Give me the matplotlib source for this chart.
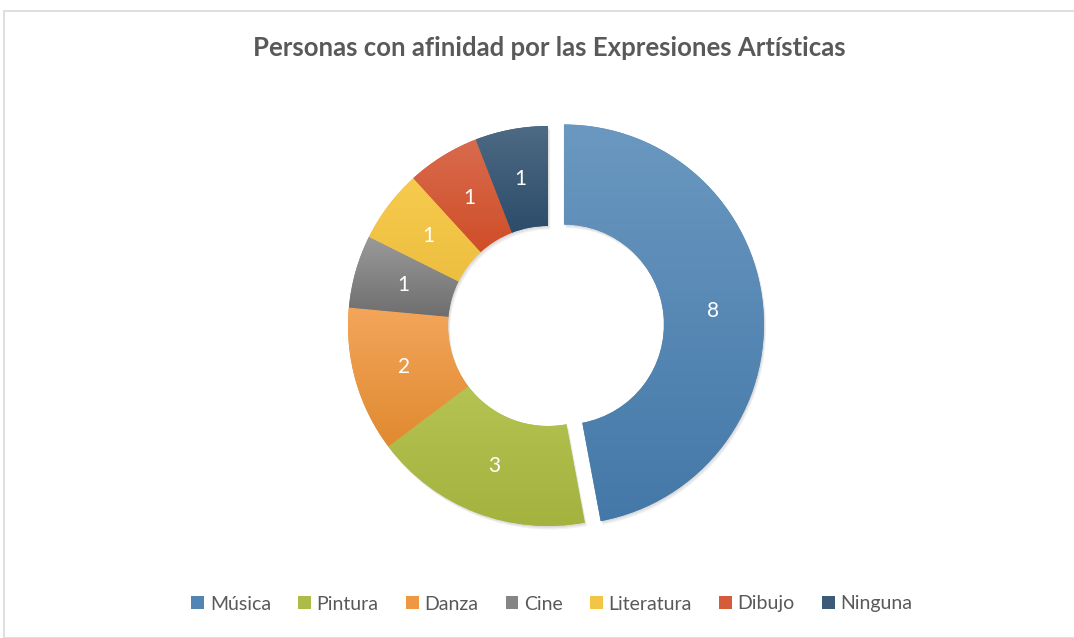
import matplotlib
matplotlib.use("Agg")
import matplotlib.pyplot as plt
import matplotlib.colors as mcolors
from matplotlib.patches import Rectangle, PathPatch
from matplotlib.transforms import Affine2D
import numpy as np

# data
categories = ["Música", "Pintura", "Danza", "Cine", "Literatura", "Dibujo", "Ninguna"]
values = [8, 3, 2, 1, 1, 1, 1]
explode = [0.08, 0, 0, 0, 0, 0, 0]
# gradient colours (top, bottom) per slice
top_colors = ["#6A98C0", "#B5C352", "#F3A55A", "#9A9A9A", "#F7CB4E", "#D96B4E", "#4E6A84"]
bottom_colors = ["#4478A8", "#A3B33E", "#E08A30", "#6E6E6E", "#EDBE40", "#CF4E27", "#2B4C6A"]
base_colors = ["#5285B4", "#ADBB48", "#EE9843", "#858585", "#F3C547", "#D45C38", "#3B5B78"]

plt.rcParams['font.family'] = ['Lato', 'DejaVu Sans']

fig = plt.figure(figsize=(10.74, 6.38), dpi=100)
fig.patch.set_facecolor("white")

# chart area border
fig.patches.append(Rectangle((4 / 1074, 0), 1.2, (638 - 11) / 638, transform=fig.transFigure,
                             fill=False, edgecolor="#D9D9D9", linewidth=1.2))

W = 260
cx, cy = 548, 326
ax = fig.add_axes([(cx - W) / 1074, (638 - cy - W) / 638, 2 * W / 1074, 2 * W / 638])
ax.set_xlim(-1.3, 1.3)
ax.set_ylim(-1.3, 1.3)
ax.set_aspect("equal")
ax.axis("off")

wedges, texts = ax.pie(values, explode=explode, startangle=90, counterclock=False,
                       colors=base_colors, radius=1.0,
                       wedgeprops=dict(width=0.5, edgecolor="none"),
                       labels=[str(v) for v in values], labeldistance=0.75)

for t in texts:
    t.set_color("white")
    t.set_fontsize(15)
    t.set_ha("center")
    t.set_va("center")
    t.set_zorder(10)

# shadows and gradients
for w, c0, c1 in zip(wedges, top_colors, bottom_colors):
    path = w.get_path()
    for k, a in enumerate([0.05, 0.05, 0.05]):
        off = 0.006 * (k + 1)
        sp = PathPatch(path, transform=Affine2D().translate(off * 0.6, -off) + ax.transData,
                       facecolor="black", edgecolor="none", alpha=a, zorder=0.5)
        ax.add_patch(sp)
    ext = path.get_extents()
    cmap = mcolors.LinearSegmentedColormap.from_list("g", [c1, c0])
    grad = np.linspace(0, 1, 256).reshape(-1, 1)
    im = ax.imshow(grad, cmap=cmap, origin="lower", aspect="auto",
                   extent=[ext.x0, ext.x1, ext.y0, ext.y1], zorder=2)
    im.set_clip_path(w)

ax.set_xlim(-1.3, 1.3)
ax.set_ylim(-1.3, 1.3)

fig.text(549 / 1074, (638 - 48) / 638, "Personas con afinidad por las Expresiones Artísticas",
         ha="center", va="center", fontsize=18.5, fontweight="bold", color="#595959")

handles = [Rectangle((0, 0), 1, 1, facecolor=c, edgecolor="none") for c in base_colors]
fig.legend(handles, categories, loc="center", bbox_to_anchor=(552 / 1074, (638 - 604) / 638),
           ncol=7, frameon=False, fontsize=14, handlelength=0.65, handleheight=0.65,
           handletextpad=0.3, columnspacing=1.4, labelcolor="#595959")

fig.savefig("out.png", dpi=100)
